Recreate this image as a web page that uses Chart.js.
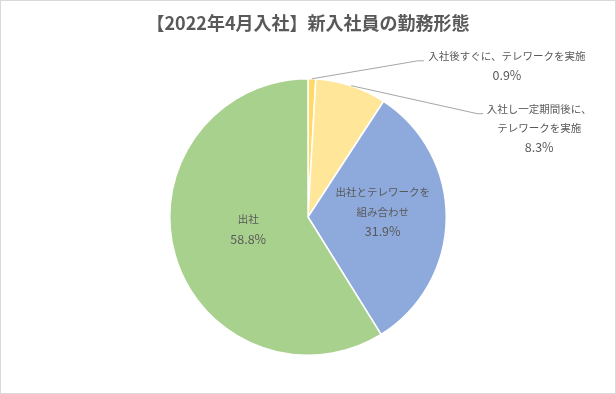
<!DOCTYPE html>
<html>
<head>
<meta charset="utf-8">
<script src="https://cdn.jsdelivr.net/npm/chart.js@4/dist/chart.umd.min.js"></script>
<style>
  html, body { margin: 0; padding: 0; background: #fff; }
  #wrap { width: 616px; height: 394px; }
</style>
</head>
<body>
<div id="wrap"><canvas id="workStyleChart" width="616" height="394"></canvas></div>
<script>
// --- data ---
const titleText = "【2022年4月入社】新入社員の勤務形態";
const categories = [
  "入社後すぐに、テレワークを実施",
  "入社し一定期間後に、テレワークを実施",
  "出社とテレワークを組み合わせ",
  "出社",
];
const values = [0.9, 8.3, 31.9, 58.8];
const sliceColors = ["#FFD966", "#FFE699", "#8EA9DB", "#A9D18E"];

// label lines per slice (how Excel broke them)
const labelLines = [
  ["入社後すぐに、テレワークを実施"],
  ["入社し一定期間後に、", "テレワークを実施"],
  ["出社とテレワークを", "組み合わせ"],
  ["出社"],
];

const TEXT = "#595959";
const FONT = "'Noto Sans CJK JP', 'Noto Sans', sans-serif";

// placement of data labels: inside (fraction of radius) or outside with leader
const labelPlace = [
  { outside: true, text: [195, -23], elbow: [106, -18], tail: 6 },
  { outside: true, text: [188, 23], elbow: [126, 28], tail: 6 },
  { outside: false, frac: 0.54, dx: 0, dy: -6 },
  { outside: false, frac: 0.45, dx: 0, dy: -5 },
];

/* ---------------- frame + title ---------------- */
const framePlugin = {
  id: "frame",
  beforeDraw(chart) {
    const { ctx, width, height } = chart;
    ctx.save();
    ctx.fillStyle = "#fff";
    ctx.fillRect(0, 0, width, height);
    ctx.strokeStyle = "#D9D9D9";
    ctx.lineWidth = 1;
    ctx.strokeRect(0.5, 0.5, width - 1, height - 1);
    ctx.fillStyle = TEXT;
    ctx.font = "bold 18px " + FONT;
    ctx.textAlign = "center";
    ctx.textBaseline = "middle";
    ctx.fillText(titleText, width / 2, 23);
    ctx.restore();
  },
};

/* ---------------- data labels ---------------- */
const labelPlugin = {
  id: "pieLabels",
  afterDatasetsDraw(chart) {
    const { ctx } = chart;
    const meta = chart.getDatasetMeta(0);
    ctx.save();
    ctx.fillStyle = TEXT;
    ctx.textAlign = "center";
    ctx.textBaseline = "middle";
    const lineH = 19.5;

    meta.data.forEach((arc, i) => {
      const p = arc.getProps(["x", "y", "startAngle", "endAngle", "outerRadius"], true);
      const mid = (p.startAngle + p.endAngle) / 2;
      const lines = labelLines[i].concat([values[i].toFixed(1) + "%"]);
      const place = labelPlace[i];
      let cx, top;

      if (place.outside) {
        const ex = p.x + Math.cos(mid) * p.outerRadius;
        const ey = p.y + Math.sin(mid) * p.outerRadius;
        const bx = ex + place.elbow[0];
        const by = ey + place.elbow[1];
        ctx.save();
        ctx.strokeStyle = "#A6A6A6";
        ctx.lineWidth = 1;
        ctx.beginPath();
        ctx.moveTo(ex, ey);
        ctx.lineTo(bx, by);
        ctx.lineTo(bx + place.tail, by);
        ctx.stroke();
        ctx.restore();
        cx = ex + place.text[0];
        top = ey + place.text[1];
      } else {
        const r = p.outerRadius * place.frac;
        cx = p.x + Math.cos(mid) * r + place.dx;
        const cy = p.y + Math.sin(mid) * r + place.dy;
        top = cy - ((lines.length - 1) * lineH) / 2;
      }

      lines.forEach((t, k) => {
        // the percentage line uses a slightly larger size, like the Excel digits
        ctx.font = (k === lines.length - 1 ? "12.5px " : "10.5px ") + FONT;
        ctx.fillText(t, cx, top + k * lineH);
      });
    });
    ctx.restore();
  },
};

new Chart(document.getElementById("workStyleChart").getContext("2d"), {
  type: "pie",
  data: {
    labels: categories,
    datasets: [
      {
        data: values,
        backgroundColor: sliceColors,
        borderColor: "#fff",
        borderWidth: 1.5,
      },
    ],
  },
  options: {
    responsive: false,
    animation: false,
    layout: { padding: { top: 78, bottom: 38 } },
    plugins: {
      legend: { display: false },
      title: { display: false },
      tooltip: { enabled: false },
    },
  },
  plugins: [framePlugin, labelPlugin],
});
</script>
</body>
</html>
